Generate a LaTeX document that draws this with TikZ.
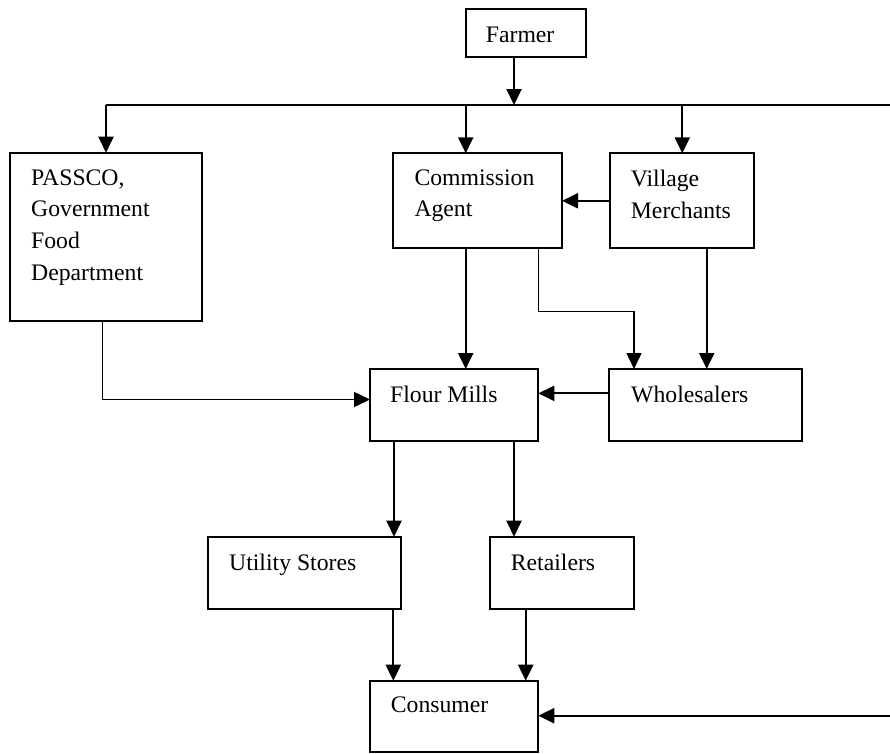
\documentclass[tikz,border=0pt]{standalone}
\usepackage{fontspec}
\setmainfont{Liberation Serif}
\usetikzlibrary{arrows.meta}
\begin{document}
\begin{tikzpicture}[x=1pt,y=-1pt,
  box/.style={draw, line width=2pt, rectangle, inner sep=0pt, outer sep=0pt, anchor=north west},
  lbl/.style={anchor=base west, inner sep=0pt, font=\fontsize{23.7}{31.7}\selectfont},
  flow/.style={line width=2.2pt, -{Triangle[length=16pt,width=15pt]}},
  thinflow/.style={flow, line width=1.5pt},
]
\useasboundingbox (0,0) rectangle (890,753);

% boxes
\node[box, minimum width=120pt, minimum height=47.7pt] (farmer) at (465.7,9) {};
\node[box, minimum width=192pt, minimum height=168pt] (passco) at (10,152.7) {};
\node[box, minimum width=169pt, minimum height=95pt] (agent) at (393,153.3) {};
\node[box, minimum width=144pt, minimum height=95pt] (village) at (610,153.3) {};
\node[box, minimum width=168.3pt, minimum height=71.7pt] (mills) at (370,369) {};
\node[box, minimum width=193pt, minimum height=71.7pt] (wholesale) at (609.3,369) {};
\node[box, minimum width=192.4pt, minimum height=72.6pt] (utility) at (208.3,536.7) {};
\node[box, minimum width=144.3pt, minimum height=72.6pt] (retail) at (490,536.7) {};
\node[box, minimum width=168.3pt, minimum height=71pt] (consumer) at (370,680.7) {};

% box texts
\node[lbl] (tfarmer) at (485.7,42.3) {Farmer};
\node[lbl] (tpassco) at (31,185) {\parbox[t]{180pt}{PASSCO,\\Government\\Food\\Department}};
\node[lbl] (tagent) at (414.3,185) {\parbox[t]{150pt}{Commission\\Agent}};
\node[lbl] (tvillage) at (630.7,186.5) {\parbox[t]{130pt}{Village\\Merchants}};
\node[lbl] (tmills) at (390,402) {Flour Mills};
\node[lbl] (twholesale) at (631,402) {Wholesalers};
\node[lbl] (tutility) at (229,570) {Utility Stores};
\node[lbl] (tretail) at (510.7,570) {Retailers};
\node[lbl] (tconsumer) at (390.7,712.7) {Consumer};

% distribution bus under the farmer
\coordinate (busL) at (106,105);
\coordinate (busR) at (890,105);
\coordinate (tapF) at (514,105);
\coordinate (tapA) at (465.7,105);
\coordinate (tapV) at (682.3,105);
\draw[line width=2.2pt] (busL) -- (busR);
\draw[flow] (farmer.south -| tapF) -- (tapF);
\draw[flow] (busL) -- (busL |- passco.north);
\draw[flow] (tapA) -- (tapA |- agent.north);
\draw[flow] (tapV) -- (tapV |- village.north);

% middle tier
\draw[flow] (village.west) -- (agent.east);
\draw[flow] (agent.south -| tapA) -- (mills.north -| tapA);
\coordinate (elbow) at (634,311.7);
\draw[thinflow] (agent.south -| mills.east) |- (elbow) -- (elbow |- wholesale.north);
\coordinate (vdrop) at (706.7,248.3);
\draw[flow] (village.south -| vdrop) -- (wholesale.north -| vdrop);
\draw[flow] ([yshift=11.5pt]wholesale.west) coordinate (wout) -- (wout -| mills.east);
\coordinate (pm) at (102.5,399.5);
\draw[thinflow] (passco.south -| pm) |- (mills.west |- pm);

% lower tier
\coordinate (mU) at (394,440.7);
\coordinate (mR) at (514,440.7);
\draw[flow] (mills.south -| mU) -- (utility.north -| mU);
\draw[flow] (mills.south -| mR) -- (retail.north -| mR);
\coordinate (uC) at (393.3,609.3);
\coordinate (rC) at (525.7,609.3);
\draw[flow] (utility.south -| uC) -- (consumer.north -| uC);
\draw[flow] (retail.south -| rC) -- (consumer.north -| rC);
\coordinate (edgeR) at (890,715.7);
\draw[flow] (edgeR) -- (edgeR -| consumer.east);
\end{tikzpicture}
\end{document}
